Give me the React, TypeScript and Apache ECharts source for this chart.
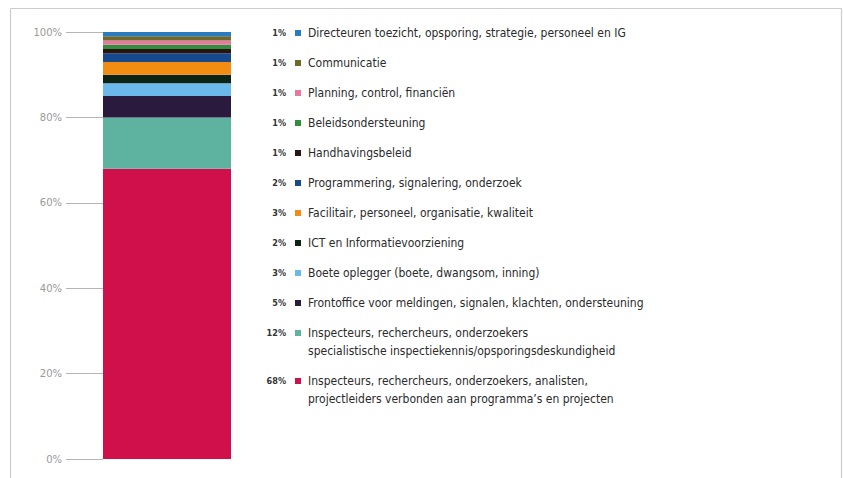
import React, { useEffect, useRef } from "react";
import * as echarts from "echarts";

// Legend order (top to bottom) = stack order from top to bottom
const categoryNames: string[] = [
  "Directeuren toezicht, opsporing, strategie, personeel en IG",
  "Communicatie",
  "Planning, control, financiën",
  "Beleidsondersteuning",
  "Handhavingsbeleid",
  "Programmering, signalering, onderzoek",
  "Facilitair, personeel, organisatie, kwaliteit",
  "ICT en Informatievoorziening",
  "Boete oplegger (boete, dwangsom, inning)",
  "Frontoffice voor meldingen, signalen, klachten, ondersteuning",
  "Inspecteurs, rechercheurs, onderzoekers\nspecialistische inspectiekennis/opsporingsdeskundigheid",
  "Inspecteurs, rechercheurs, onderzoekers, analisten,\nprojectleiders verbonden aan programma\u2019s en projecten",
];
const percentages: number[] = [1, 1, 1, 1, 1, 2, 3, 2, 3, 5, 12, 68];
const seriesColors: string[] = [
  "#2b7bc0",
  "#6e6a2a",
  "#e8799e",
  "#2f8f3f",
  "#2a1410",
  "#174a8c",
  "#f28c12",
  "#0b2416",
  "#6bb8ea",
  "#2a1a3e",
  "#5db3a0",
  "#cf104a",
];
const xCategories: string[] = ["Totaal"];
const yTickValues: number[] = [0, 20, 40, 60, 80, 100];

const LEGEND_FONT = "'Liberation Sans Narrow', 'DejaVu Sans Condensed', Lato, sans-serif";

export default function App() {
  const ref = useRef<HTMLDivElement>(null);

  useEffect(() => {
    document.body.style.margin = "0";
    if (!ref.current) return;
    const chart = echarts.init(ref.current, undefined, { renderer: "svg" });

    // stack from bottom: reverse legend order
    const order = categoryNames.map((_, i) => i).reverse();
    const series = order.map((i) => ({
      name: categoryNames[i],
      type: "bar" as const,
      stack: "total",
      data: [percentages[i]],
      itemStyle: { color: seriesColors[i] },
      barWidth: "100%",
      barCategoryGap: "0%",
      silent: true,
    }));

    const frameStyle = { stroke: "#cccccc", lineWidth: 1.2 };
    const graphics: any[] = [
      { type: "line", shape: { x1: 10.5, y1: 8.5, x2: 841.5, y2: 8.5 }, style: frameStyle, silent: true },
      { type: "line", shape: { x1: 10.5, y1: 8.5, x2: 10.5, y2: 478 }, style: frameStyle, silent: true },
      { type: "line", shape: { x1: 841.5, y1: 8.5, x2: 841.5, y2: 478 }, style: frameStyle, silent: true },
    ];
    let extra = 0;
    categoryNames.forEach((name, i) => {
      const rowY = 33 + 30 * i + 18 * extra;
      graphics.push({
        type: "text",
        x: 286,
        y: rowY,
        style: {
          text: percentages[i] + "%",
          align: "right",
          verticalAlign: "middle",
          fontSize: 9,
          fontWeight: "bold",
          fontFamily: LEGEND_FONT,
          fill: "#333333",
        },
      });
      graphics.push({
        type: "rect",
        shape: { x: 295, y: rowY - 3, width: 6, height: 6 },
        style: { fill: seriesColors[i] },
      });
      graphics.push({
        type: "text",
        x: 308,
        y: rowY - 9,
        style: {
          text: name,
          align: "left",
          verticalAlign: "top",
          fontSize: 12,
          lineHeight: 18,
          fontFamily: LEGEND_FONT,
          fill: "#2b2b2b",
        },
      });
      extra += name.split("\n").length - 1;
    });

    chart.setOption({
      animation: false,
      grid: { left: 103, width: 128, top: 32, bottom: 19 },
      xAxis: {
        type: "category",
        data: xCategories,
        show: false,
      },
      yAxis: {
        type: "value",
        min: yTickValues[0],
        max: yTickValues[yTickValues.length - 1],
        interval: 20,
        axisLine: { show: false },
        axisTick: {
          show: true,
          inside: false,
          length: 37,
          lineStyle: { color: "#b5b5b5", width: 1 },
        },
        axisLabel: {
          formatter: "{value}%",
          color: "#999999",
          fontSize: 10,
          margin: 41,
          fontFamily: "'DejaVu Sans', sans-serif",
        },
        splitLine: { show: false },
      },
      series,
      graphic: graphics,
    });

    return () => chart.dispose();
  }, []);

  return <div ref={ref} style={{ width: 843, height: 478 }} />;
}
